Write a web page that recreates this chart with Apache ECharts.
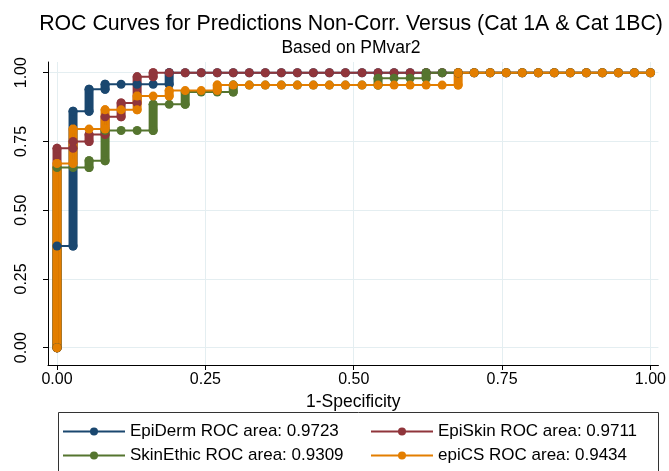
<!DOCTYPE html>
<html>
<head>
<meta charset="utf-8">
<title>ROC Curves</title>
<script src="https://cdn.jsdelivr.net/npm/echarts@6/dist/echarts.min.js"></script>
<style>
  html, body { margin: 0; padding: 0; background: #fff; }
  #roc-chart { width: 669px; height: 471px; }
</style>
</head>
<body>
<div id="roc-chart"></div>
<script>
// 1-specificity at each step (37 non-corrosive cases)
const fpr = [0, 0.027, 0.054, 0.081, 0.108, 0.135, 0.162, 0.189, 0.216, 0.243,
  0.270, 0.297, 0.324, 0.351, 0.378, 0.405, 0.432, 0.459, 0.486, 0.514,
  0.541, 0.568, 0.595, 0.622, 0.649, 0.676, 0.703, 0.730, 0.757, 0.784,
  0.811, 0.838, 0.865, 0.892, 0.919, 0.946, 0.973, 1]
const tickValues = [0, 0.25, 0.5, 0.75, 1]

// highest sensitivity reached at each fpr step
const epiDerm = [0.37, 0.86, 0.94, 0.958, 0.958, 0.958, 0.958, 1, 1, 1,
  1, 1, 1, 1, 1, 1, 1, 1, 1, 1, 1, 1, 1, 1, 1, 1, 1, 1, 1, 1, 1, 1, 1, 1, 1, 1, 1, 1]
const epiSkin = [0.725, 0.75, 0.775, 0.84, 0.89, 0.985, 1, 1, 1, 1,
  1, 1, 1, 1, 1, 1, 1, 1, 1, 1, 1, 1, 1, 1, 1, 1, 1, 1, 1, 1, 1, 1, 1, 1, 1, 1, 1, 1]
const skinEthic = [0.655, 0.655, 0.68, 0.79, 0.79, 0.79, 0.885, 0.885, 0.93, 0.93,
  0.93, 0.955, 0.955, 0.955, 0.955, 0.955, 0.955, 0.955, 0.955, 0.955,
  0.98, 0.98, 0.98, 1, 1, 1, 1, 1, 1, 1, 1, 1, 1, 1, 1, 1, 1, 1]
const epiCS = [0.67, 0.795, 0.795, 0.865, 0.865, 0.915, 0.915, 0.935, 0.935, 0.935,
  0.955, 0.955, 0.955, 0.955, 0.955, 0.955, 0.955, 0.955, 0.955, 0.955,
  0.955, 0.955, 0.955, 0.955, 0.955, 1, 1, 1, 1, 1, 1, 1, 1, 1, 1, 1, 1, 1]

const seriesNames = ['EpiDerm ROC area: 0.9723', 'EpiSkin ROC area: 0.9711',
  'SkinEthic ROC area: 0.9309', 'epiCS ROC area: 0.9434']
const colors = ['#1a476f', '#90353b', '#55752f', '#e37e00']
const curves = [epiDerm, epiSkin, skinEthic, epiCS]

const font = 'Liberation Sans, Arial, sans-serif'
const dotSize = 9

// step path: up at each fpr, then across to the next one
const stepPoints = (tops) => {
  const pts = []
  let prev = 0
  tops.forEach((top, i) => {
    pts.push([fpr[i], prev])
    if (top !== prev) pts.push([fpr[i], top])
    prev = top
  })
  return pts
}
// vertical runs of tied cutpoints, drawn as a solid stack of markers
const columns = (tops) =>
  tops.map((top, i) => [fpr[i], i ? tops[i - 1] : 0, top]).filter((d) => d[2] > d[1])

const series = []
curves.forEach((tops, idx) => {
  series.push({
    name: seriesNames[idx],
    type: 'line',
    data: stepPoints(tops),
    symbol: 'circle',
    symbolSize: dotSize,
    showAllSymbol: true,
    color: colors[idx],
    lineStyle: { width: 2, color: colors[idx] },
    itemStyle: { color: colors[idx] },
    animation: false
  })
  series.push({
    name: seriesNames[idx] + ' runs',
    type: 'custom',
    data: columns(tops),
    renderItem: (params, api) => {
      const p0 = api.coord([api.value(0), api.value(1)])
      const p1 = api.coord([api.value(0), api.value(2)])
      return {
        type: 'line',
        shape: { x1: p0[0], y1: p0[1], x2: p1[0], y2: p1[1] },
        style: { stroke: colors[idx], lineWidth: dotSize, lineCap: 'round' }
      }
    },
    animation: false
  })
})

const tickText = { color: '#000', fontFamily: font, fontSize: 16 }
const legendBase = {
  orient: 'vertical',
  top: 423,
  padding: 0,
  itemWidth: 62,
  itemHeight: 10,
  itemGap: 7,
  textStyle: { color: '#000', fontFamily: font, fontSize: 17 }
}

const option = {
  backgroundColor: '#fff',
  animation: false,
  title: {
    text: 'ROC Curves for Predictions Non-Corr. Versus (Cat 1A & Cat 1BC)',
    subtext: 'Based on PMvar2',
    left: 346,
    textAlign: 'center',
    top: 9,
    itemGap: 4,
    textStyle: { color: '#000', fontFamily: font, fontSize: 21.3, fontWeight: 'normal' },
    subtextStyle: { color: '#000', fontFamily: font, fontSize: 17.5 }
  },
  grid: { left: 48, right: 9, top: 62, bottom: 106, containLabel: false },
  xAxis: {
    type: 'value',
    min: -0.0152,
    max: 1.0135,
    name: '1-Specificity',
    nameLocation: 'middle',
    nameGap: 26,
    nameTextStyle: { color: '#000', fontFamily: font, fontSize: 17.5 },
    axisLine: { show: true, onZero: false, lineStyle: { color: '#000', width: 1 } },
    axisTick: { show: true, length: 5, customValues: tickValues, lineStyle: { color: '#000' } },
    axisLabel: { customValues: tickValues, margin: 7, formatter: (v) => v.toFixed(2), ...tickText },
    splitLine: { show: true, lineStyle: { color: '#e4eef1', width: 1 } }
  },
  yAxis: {
    type: 'value',
    min: -0.0629,
    max: 1.0389,
    axisLine: { show: true, onZero: false, lineStyle: { color: '#000', width: 1 } },
    axisTick: { show: true, length: 5, customValues: tickValues, lineStyle: { color: '#000' } },
    axisLabel: { customValues: tickValues, rotate: 90, margin: 18, formatter: (v) => v.toFixed(2), ...tickText },
    splitLine: { show: true, lineStyle: { color: '#e4eef1', width: 1 } }
  },
  legend: [
    { ...legendBase, left: 62, data: [seriesNames[0], seriesNames[2]] },
    { ...legendBase, left: 370, data: [seriesNames[1], seriesNames[3]] }
  ],
  graphic: [{
    type: 'rect',
    left: 56,
    top: 410,
    shape: { width: 600, height: 80 },
    style: { fill: 'none', stroke: '#333', lineWidth: 1 },
    silent: true
  }],
  series
}

const chart = echarts.init(document.getElementById('roc-chart'))
chart.setOption(option)
</script>
</body>
</html>
